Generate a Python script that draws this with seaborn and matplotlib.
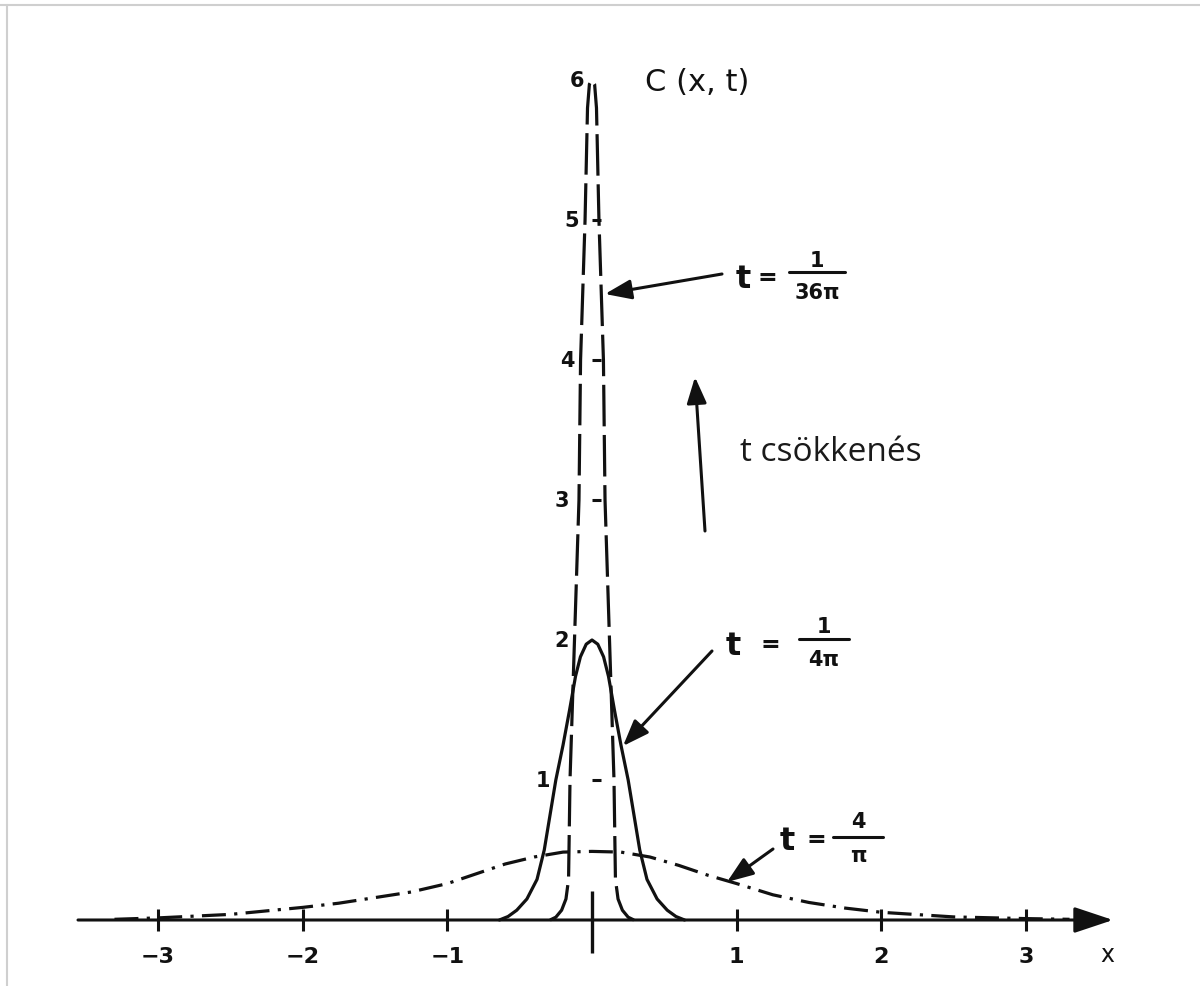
import numpy as np
import pandas as pd
import matplotlib
matplotlib.use("Agg")
import matplotlib.pyplot as plt
from matplotlib.lines import Line2D
import seaborn as sns

# ---------------- data ----------------
series_names = ["t = 1/(36π)", "t = 1/(4π)", "t = 4/π"]

x_dashed = [-0.29, -0.25, -0.21, -0.18, -0.162, -0.159, -0.152, -0.121, -0.09, -0.079,
            -0.048, -0.031, -0.018, 0.0, 0.018, 0.031, 0.048, 0.079, 0.09, 0.121,
            0.152, 0.159, 0.162, 0.18, 0.21, 0.25, 0.29]
y_dashed = [0.0, 0.02, 0.07, 0.15, 0.29, 0.5, 1.0, 2.0, 3.0, 4.0,
            5.0, 5.8, 5.97, 6.0, 5.97, 5.8, 5.0, 4.0, 3.0, 2.0,
            1.0, 0.5, 0.29, 0.15, 0.07, 0.02, 0.0]

x_solid = [-0.64, -0.58, -0.52, -0.45, -0.38, -0.33, -0.29, -0.25, -0.2,
           -0.155, -0.114, -0.08, -0.04, 0.0, 0.04, 0.08, 0.114, 0.155, 0.2,
           0.25, 0.29, 0.33, 0.38, 0.45, 0.52, 0.58, 0.64]
y_solid = [0.0, 0.025, 0.07, 0.15, 0.29, 0.5, 0.75, 1.0, 1.25,
           1.5, 1.74, 1.88, 1.97, 2.0, 1.97, 1.88, 1.74, 1.5, 1.25,
           1.0, 0.75, 0.5, 0.29, 0.15, 0.07, 0.025, 0.0]

x_dashdot = [-3.3, -3.0, -2.5, -2.0, -1.75, -1.5, -1.25, -1.0, -0.8, -0.6, -0.4, -0.2, 0.0,
             0.2, 0.4, 0.6, 0.8, 1.0, 1.25, 1.5, 1.75, 2.0, 2.5, 3.0, 3.3]
y_dashdot = [0.005, 0.015, 0.04, 0.09, 0.12, 0.16, 0.2, 0.26, 0.33, 0.4, 0.45, 0.485, 0.49,
             0.485, 0.45, 0.39, 0.32, 0.26, 0.18, 0.125, 0.085, 0.055, 0.022, 0.01, 0.005]

x_ticks = [-3, -2, -1, 1, 2, 3]
x_tick_labels = ["−3", "−2", "−1", "1", "2", "3"]
y_ticks = [1, 2, 3, 4, 5, 6]
y_tick_labels = ["1", "2", "3", "4", "5", "6"]

# ---------------- layout helpers ----------------
W, H, DPI = 1200, 987, 100
X0, UX = 592.0, 144.7   # pixel of x=0, pixels per x unit
Y0, UY = 921.0, 140.0   # pixel of y=0, pixels per y unit


def P(px, py):
    return ((px - X0) / UX, (Y0 - py) / UY)


def PX(px):
    return (px - X0) / UX


def PY(py):
    return (Y0 - py) / UY


sns.set_theme(style="white")
plt.rcParams["font.family"] = ["DejaVu Sans"]

fig = plt.figure(figsize=(W / DPI, H / DPI), dpi=DPI)
fig.patch.set_facecolor("white")
ax = fig.add_axes([0, 0, 1, 1])
ax.set_xlim(PX(0), PX(W))
ax.set_ylim(PY(H), PY(0))
ax.axis("off")

INK = "#111111"
LW = 2.3

df = pd.concat([
    pd.DataFrame({"x": x_dashdot, "C": y_dashdot, "series": series_names[2]}),
    pd.DataFrame({"x": x_solid, "C": y_solid, "series": series_names[1]}),
    pd.DataFrame({"x": x_dashed, "C": y_dashed, "series": series_names[0]}),
], ignore_index=True)

sns.lineplot(
    data=df, x="x", y="C", hue="series", style="series",
    palette={s: INK for s in series_names},
    dashes={series_names[0]: (13, 2.7), series_names[1]: "",
            series_names[2]: (7.5, 2.6, 1, 2.6)},
    estimator=None, sort=False, linewidth=LW, legend=False, ax=ax,
)

# x axis with arrow
ax.annotate("", xy=P(1113, Y0), xytext=P(78, Y0),
            arrowprops=dict(arrowstyle="-|>,head_length=1.2,head_width=0.4",
                            lw=2.2, color=INK, shrinkA=0, shrinkB=0,
                            mutation_scale=20))
# x ticks
ax.vlines(x_ticks, -0.08, 0.08, color=INK, lw=2.2)
ax.vlines([0], PY(954), PY(892), color=INK, lw=2.4)
for xv, lab in zip(x_ticks, x_tick_labels):
    ax.text(xv, PY(957), lab, fontsize=16, fontweight="bold", ha="center",
            va="center", color=INK)
ax.text(PX(1107), PY(955), "x", fontsize=17, ha="center", va="center", color=INK)

# y ticks (small dashes between dashed lines) and labels
ax.hlines([1, 3, 4, 5], PX(592), PX(601), color=INK, lw=2.2)
ylab_px = [543, 562, 562, 567, 572, 577]
for yv, lab, lx in zip(y_ticks, y_tick_labels, ylab_px):
    ax.text(PX(lx), yv, lab, fontsize=15, fontweight="bold", ha="center",
            va="center", color=INK)
ax.text(PX(697), PY(83), "C (x, t)", fontsize=22, ha="center", va="center", color=INK)


def frac_label(tx, ty, num, den, cx, bar_w, ny, by, dy, eqx):
    ax.text(*P(tx, ty), "t", fontsize=23, fontweight="bold", ha="center",
            va="center", color=INK)
    ax.text(*P(eqx, ty - 2), "=", fontsize=17, fontweight="bold", ha="center",
            va="center", color=INK)
    ax.text(*P(cx, ny), num, fontsize=15, fontweight="bold", ha="center",
            va="center", color=INK)
    ax.text(*P(cx, dy), den, fontsize=15, fontweight="bold", ha="center",
            va="center", color=INK)
    ax.add_line(Line2D([PX(cx - bar_w / 2), PX(cx + bar_w / 2)], [PY(by), PY(by)],
                       color=INK, lw=2.2))


frac_label(743, 280, "1", "36π", 817, 56, 261, 273, 293, 767)
frac_label(733, 647, "1", "4π", 824, 50, 627, 640, 660, 770)
frac_label(787, 842, "4", "π", 858, 50, 822, 838, 856, 816)

arrow_kw = dict(arrowstyle="-|>,head_length=0.8,head_width=0.3", lw=2.2,
                color=INK, shrinkA=0, shrinkB=0)
for tip, tail in [((605, 295), (722, 275)), ((623, 747), (712, 652)),
                  ((727, 883), (773, 850)), ((695, 378), (705, 532))]:
    ax.annotate("", xy=P(*tip), xytext=P(*tail),
                arrowprops=dict(arrow_kw, mutation_scale=20))

ax.text(PX(740), PY(453), "t csökkenés", fontsize=24, ha="left", va="center",
        color="#1a1a1a", family=["Open Sans", "DejaVu Sans"])

# light slide border
fig.add_artist(Line2D([0, 1], [1 - 6 / H, 1 - 6 / H], transform=fig.transFigure,
                      color="#cfcfcf", lw=1.5))
fig.add_artist(Line2D([7 / W, 7 / W], [0, 1 - 6 / H], transform=fig.transFigure,
                      color="#cfcfcf", lw=1.5))

fig.savefig("out.png", dpi=DPI, facecolor="white")
